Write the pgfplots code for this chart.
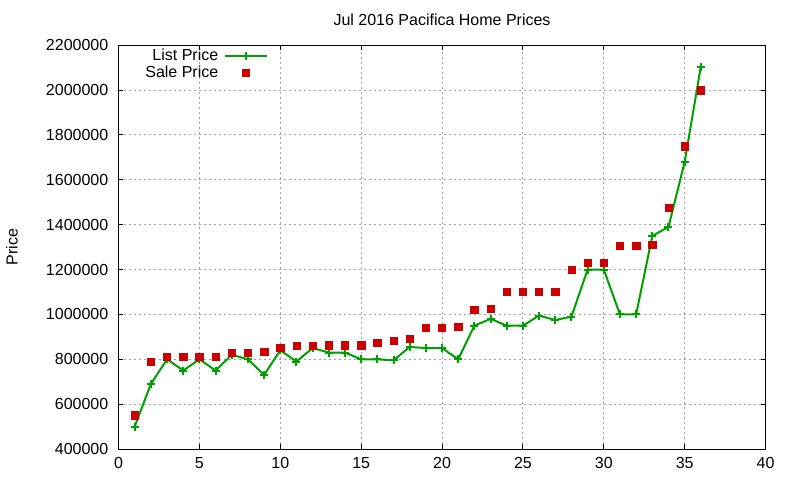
\documentclass[border=0pt]{standalone}
\usepackage{pgfplots}
\pgfplotsset{compat=1.18}
\usepackage{fontspec}
\setmainfont{Liberation Sans}
\definecolor{listgreen}{RGB}{0,160,0}
\definecolor{salered}{RGB}{204,0,0}
\definecolor{gridgray}{RGB}{160,160,160}

\begin{document}
\fontsize{12}{14.4}\selectfont
\begin{tikzpicture}
\path[use as bounding box] (0,0) rectangle (600pt,360pt);
\begin{axis}[
    at={(88.9pt,23.25pt)}, anchor=south west,
    scale only axis,
    width=485.25pt, height=302.8pt,
    xmin=0, xmax=40, ymin=400000, ymax=2200000,
    xtick={0,5,...,40},
    ytick={400000,600000,...,2200000},
    scaled y ticks=false,
    /pgf/number format/assume math mode=true,
    yticklabel style={/pgf/number format/fixed, /pgf/number format/1000 sep={}, /pgf/number format/precision=0, xshift=-3.5pt},
    xticklabel style={yshift=-2pt},
    tick align=inside,
    major tick length=3.5pt,
    tick style={black, line width=0.75pt},
    axis line style={line width=0.75pt},
    grid=major,
    grid style={dash pattern=on 1.5pt off 2.25pt, color=gridgray, line width=0.75pt},
    title={Jul 2016 Pacifica Home Prices},
    title style={at={(axis description cs:0.5,1)}, anchor=center, yshift=13.2pt},
    ylabel={Price},
    every axis y label/.style={at={(axis description cs:-0.1647,0.5)}, rotate=90, anchor=center},
    legend plot pos=right,
    legend cell align=right,
    legend style={at={(axis description cs:0.0369,0.9975)}, anchor=north west,
        draw=none, fill=none, inner sep=0pt, row sep=-2pt, column sep=2pt},
    legend image code/.code={
        \draw[mark repeat=2,mark phase=2] plot coordinates {(0pt,0pt) (15.75pt,0pt) (31.5pt,0pt)};
    },
]
\addplot[listgreen, line width=1.5pt, mark=+, mark size=3pt, mark options={line width=1.5pt}] coordinates {
    (1,500000) (2,690000) (3,800000) (4,750000) (5,800000) (6,750000)
    (7,820000) (8,800000) (9,730000) (10,840000) (11,790000) (12,850000)
    (13,830000) (14,830000) (15,800000) (16,800000) (17,795000) (18,855000)
    (19,850000) (20,850000) (21,800000) (22,950000) (23,980000) (24,950000)
    (25,950000) (26,995000) (27,975000) (28,990000) (29,1200000) (30,1200000)
    (31,1000000) (32,1000000) (33,1350000) (34,1390000) (35,1680000) (36,2105000)
};
\addlegendentry{List Price}
\addplot[only marks, mark=square*, mark size=2.75pt, salered, mark options={draw=salered, fill=salered}] coordinates {
    (1,550000) (2,790000) (3,810000) (4,810000) (5,810000) (6,810000)
    (7,830000) (8,830000) (9,835000) (10,850000) (11,860000) (12,860000)
    (13,862000) (14,862000) (15,862000) (16,875000) (17,883000) (18,890000)
    (19,940000) (20,940000) (21,945000) (22,1020000) (23,1025000) (24,1100000)
    (25,1100000) (26,1100000) (27,1100000) (28,1200000) (29,1230000) (30,1230000)
    (31,1305000) (32,1305000) (33,1310000) (34,1475000) (35,1750000) (36,2000000)
};
\addlegendentry{Sale Price}
\end{axis}
\end{tikzpicture}
\end{document}
